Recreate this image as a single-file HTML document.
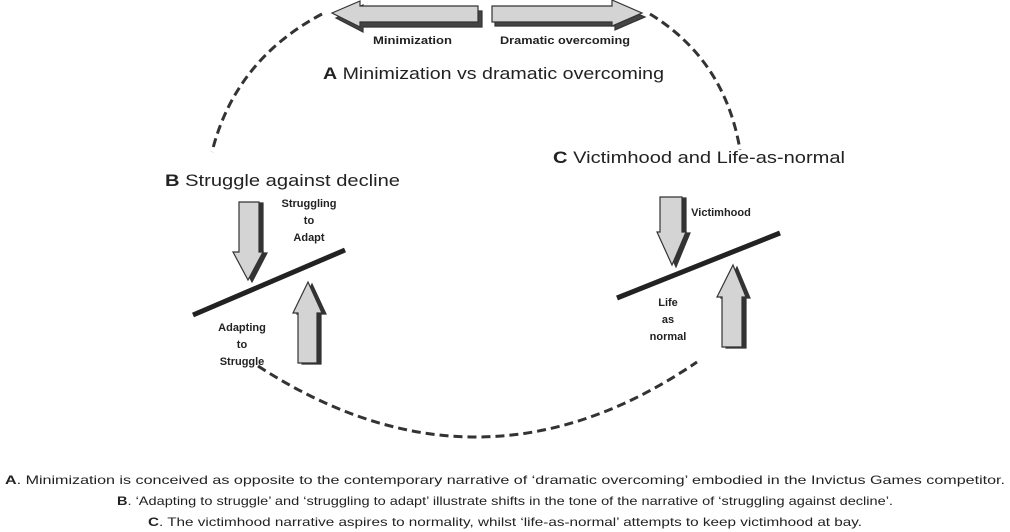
<!DOCTYPE html>
<html><head><meta charset="utf-8"><style>
body{margin:0;background:#fff;width:1010px;height:532px;overflow:hidden}
svg{display:block}
text{font-family:"Liberation Sans",Arial,sans-serif;fill:#222}
.b{font-weight:bold;font-size:11px}
.t{font-size:17px}
.c{font-size:12px}
</style></head><body>
<svg width="1010" height="532" viewBox="0 0 1010 532">
<g fill="none" stroke="#333" stroke-width="3" stroke-dasharray="9,5">
<path d="M322,14 Q235,60 212,152"/>
<path d="M650,14 Q725,60 740,150"/>
<path d="M258,366 Q480,510 697,362"/>
</g>
<g stroke="#333" stroke-width="1.2">
<polygon points="335,16 362,3 362,9 481,9 481,25 362,25 362,30" fill="#444" transform="translate(1,2)"/>
<polygon points="332,13 360,1 360,6 478,6 478,22 360,22 360,27" fill="#d4d4d4"/>
<polygon points="494,8 614,8 614,2 644,15 614,28 614,24 494,24" fill="#444" transform="translate(1,2)"/>
<polygon points="492,6 612,6 612,0 642,13 612,26 612,22 492,22" fill="#d4d4d4"/>
</g>
<text class="b" x="373" y="44" font-size="9.5" textLength="79" lengthAdjust="spacingAndGlyphs">Minimization</text>
<text class="b" x="500" y="44" font-size="9.5" textLength="130" lengthAdjust="spacingAndGlyphs">Dramatic overcoming</text>
<text class="t" x="323" y="79" textLength="341" lengthAdjust="spacingAndGlyphs"><tspan font-weight="bold">A</tspan> Minimization vs dramatic overcoming</text>
<text class="t" x="165" y="186" textLength="235" lengthAdjust="spacingAndGlyphs"><tspan font-weight="bold">B</tspan> Struggle against decline</text>
<text class="t" x="553" y="163" textLength="292" lengthAdjust="spacingAndGlyphs"><tspan font-weight="bold">C</tspan> Victimhood and Life-as-normal</text>
<g stroke="#333" stroke-width="1.2">
<polygon points="241,202 261,202 261,252 265,252 250,281 235,252 241,252" fill="#333" transform="translate(2,1)"/>
<polygon points="239,202 259,202 259,252 263,252 248,280 233,252 239,252" fill="#d4d4d4"/>
<polygon points="300,363 319,363 319,313 324,313 310,283 295,313 300,313" fill="#333" transform="translate(2,1)"/>
<polygon points="298,363 317,363 317,313 322,313 308,282 293,313 298,313" fill="#d4d4d4"/>
<polygon points="662,197 684,197 684,232 688,232 674,266 659,232 662,232" fill="#333" transform="translate(2,1)"/>
<polygon points="660,197 682,197 682,232 686,232 672,265 657,232 660,232" fill="#d4d4d4"/>
<polygon points="724,347 744,347 744,297 748,297 735,266 719,297 724,297" fill="#333" transform="translate(2,1)"/>
<polygon points="722,347 742,347 742,297 746,297 733,265 717,297 722,297" fill="#d4d4d4"/>
</g>
<line x1="193" y1="315" x2="345" y2="250" stroke="#222" stroke-width="5"/>
<line x1="617" y1="298" x2="780" y2="233" stroke="#222" stroke-width="5"/>
<g class="b" text-anchor="middle">
<text x="309" y="207">Struggling</text><text x="309" y="224">to</text><text x="309" y="241">Adapt</text>
<text x="242" y="331">Adapting</text><text x="242" y="348">to</text><text x="242" y="365">Struggle</text>
<text x="721" y="216">Victimhood</text>
<text x="668" y="306">Life</text><text x="668" y="323">as</text><text x="668" y="340">normal</text>
</g>
<g class="c">
<text x="5" y="484" textLength="1000" lengthAdjust="spacingAndGlyphs"><tspan font-weight="bold">A</tspan>. Minimization is conceived as opposite to the contemporary narrative of ‘dramatic overcoming’ embodied in the Invictus Games competitor.</text>
<text x="117" y="505" textLength="776" lengthAdjust="spacingAndGlyphs"><tspan font-weight="bold">B</tspan>. ‘Adapting to struggle’ and ‘struggling to adapt’ illustrate shifts in the tone of the narrative of ‘struggling against decline’.</text>
<text x="148" y="526" textLength="714" lengthAdjust="spacingAndGlyphs"><tspan font-weight="bold">C</tspan>. The victimhood narrative aspires to normality, whilst ‘life-as-normal’ attempts to keep victimhood at bay.</text>
</g>
</svg>
</body></html>
